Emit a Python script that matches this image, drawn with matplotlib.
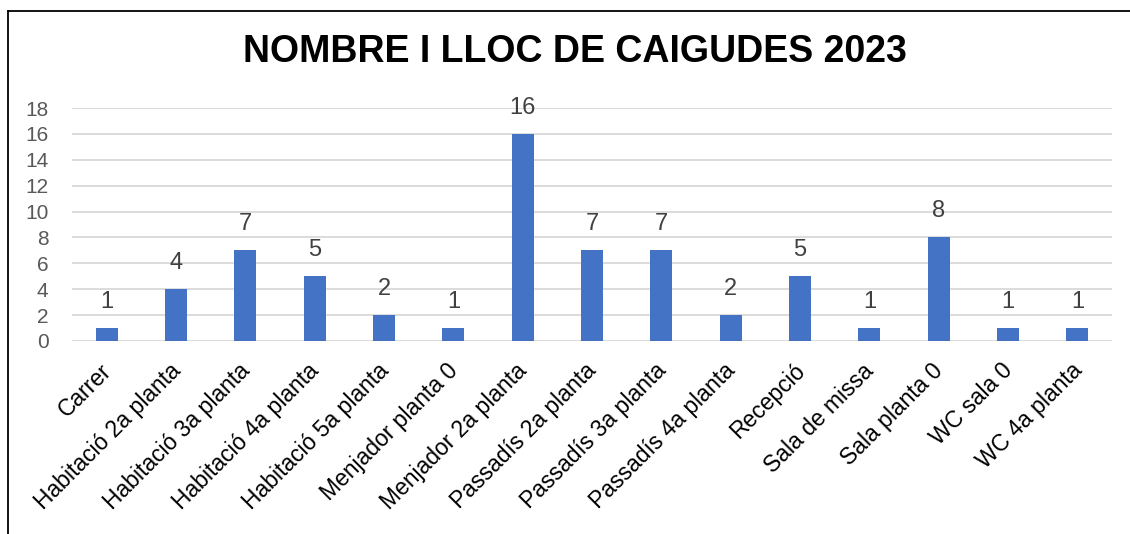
import matplotlib
matplotlib.use("Agg")
import matplotlib.pyplot as plt
from matplotlib.lines import Line2D
from matplotlib.transforms import ScaledTranslation

categories = ["Carrer", "Habitació 2a planta", "Habitació 3a planta", "Habitació 4a planta",
              "Habitació 5a planta", "Menjador planta 0", "Menjador 2a planta", "Passadís 2a planta",
              "Passadís 3a planta", "Passadís 4a planta", "Recepció", "Sala de missa",
              "Sala planta 0", "WC sala 0", "WC 4a planta"]
values = [1, 4, 7, 5, 2, 1, 16, 7, 7, 2, 5, 1, 8, 1, 1]
yticks = [0, 2, 4, 6, 8, 10, 12, 14, 16, 18]
title = "NOMBRE I LLOC DE CAIGUDES 2023"

plt.rcParams['font.family'] = ['Liberation Sans', 'DejaVu Sans']

W, H = 1130, 534
fig = plt.figure(figsize=(W / 100, H / 100), dpi=100)
ax = fig.add_axes([72 / W, 1 - 341 / H, (1112 - 72) / W, (341 - 108) / H])

x = list(range(len(categories)))
bars = ax.bar(x, values, width=0.32, color="#4472C4", zorder=3)
ax.set_xlim(-0.5, len(categories) - 0.5)
ax.set_ylim(0, 18)
ax.set_yticks(yticks)
ax.set_yticklabels([str(t) for t in yticks], fontsize=15, color="#595959")
ax.set_xticks(x)
ax.set_xticklabels(categories, rotation=45, ha="right", rotation_mode="anchor",
                   fontsize=16.5, color="#000000")
ax.tick_params(axis="both", length=0)
ax.tick_params(axis="x", pad=13)
ax.tick_params(axis="y", pad=17)
ax.grid(axis="y", color="#D9D9D9", linewidth=1.3, zorder=0)
for s in ax.spines.values():
    s.set_visible(False)

shift = ScaledTranslation(-0.07, 0, fig.dpi_scale_trans)
for lbl in ax.get_xticklabels():
    lbl.set_transform(lbl.get_transform() + shift)

ax.bar_label(bars, labels=[str(v) for v in values], padding=11, fontsize=17, color="#404040")

fig.text(575 / W, 1 - 52 / H, title, ha="center", va="center", fontsize=27,
         fontweight="bold", color="#000000")

fig.add_artist(Line2D([8 / W, 8 / W], [0, 1 - 11 / H], transform=fig.transFigure,
                      color="black", linewidth=1.3))
fig.add_artist(Line2D([8 / W, 1], [1 - 11 / H, 1 - 11 / H], transform=fig.transFigure,
                      color="black", linewidth=1.3))

fig.savefig("out.png", dpi=100)
